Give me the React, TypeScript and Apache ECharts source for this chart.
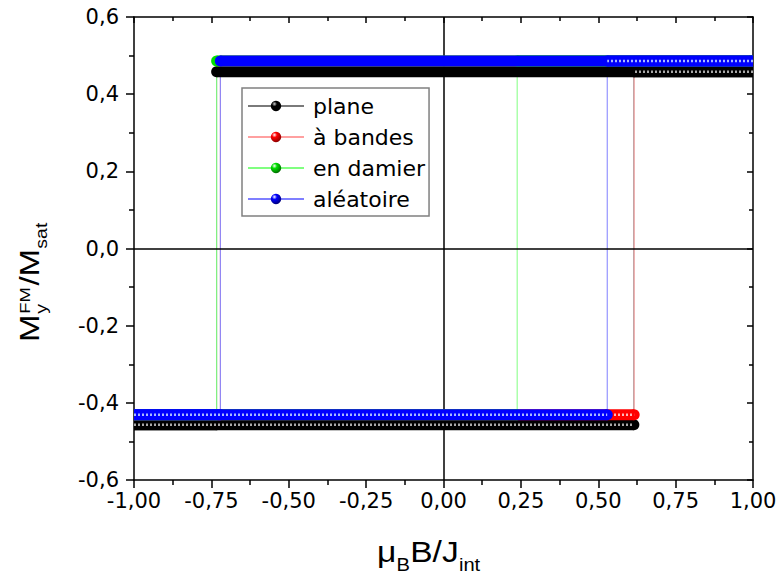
import React, { useEffect, useRef } from 'react';
import * as echarts from 'echarts';

// ---- data ----
const seriesNames = ['plane', 'à bandes', 'en damier', 'aléatoire'];
const baseColors = ['#000000', '#ff0000', '#00e000', '#0000ff'];
const lineColors = ['#7a7a7a', '#ffa0a0', '#80ff80', '#7f7fff'];
const highlightColors = ['#a8a8a8', '#ffb8b8', '#b8ffb8', '#a8b8ff'];
const upperLevel = [0.458, 0.485, 0.486, 0.486];
const lowerLevel = [-0.457, -0.431, -0.431, -0.431];
const switchDownField = [-0.733, -0.721, -0.733, -0.721];
const switchUpField = [0.615, 0.616, 0.238, 0.529];
const fieldMin = -1;
const fieldMax = 1;
const xRange = [-1, 1];
const yRange = [-0.6, 0.6];
const xStep = 0.25;
const yStep = 0.2;

const FONT = '"Liberation Sans", Arial, Helvetica, sans-serif';
const WIDE_FONT = '"DejaVu Sans", Verdana, sans-serif';

function sphere(base: string, hi: string, dark: string) {
  return new echarts.graphic.RadialGradient(0.35, 0.3, 0.7, [
    { offset: 0, color: hi },
    { offset: 0.35, color: base },
    { offset: 1, color: dark },
  ]);
}
const sphereHi = ['#d0d0d0', '#ffffff', '#ffffff', '#ffffff'];
const sphereDark = ['#000000', '#900000', '#007000', '#000080'];

function band(name: string, outer: number[], inner: number[], color: string, z: number) {
  return {
    type: 'line',
    name,
    data: [{ value: outer, symbol: 'none' }, { value: inner }],
    symbol: 'circle',
    symbolSize: 11,
    showSymbol: true,
    itemStyle: { color, borderWidth: 0 },
    silent: true,
    lineStyle: { color, width: 11, cap: 'butt' },
    z,
  };
}

function buildSeries() {
  const out: any[] = [];
  // thin connecting lines (also the legend carriers)
  seriesNames.forEach((name, i) => {
    const up = upperLevel[i];
    const lo = lowerLevel[i];
    const sd = switchDownField[i];
    const su = switchUpField[i];
    out.push({
      type: 'line',
      name,
      data: [
        [fieldMax, up], [sd, up], [sd, lo], [fieldMin, lo],
        [su, lo], [su, up], [fieldMax, up],
      ],
      symbol: 'circle',
      symbolSize: 11,
      showSymbol: false,
      itemStyle: { color: sphere(baseColors[i], sphereHi[i], sphereDark[i]) },
      lineStyle: { color: lineColors[i], width: 1 },
      silent: true,
      z: 2,
      ...(i === 0
        ? {
            markLine: {
              silent: true,
              symbol: ['none', 'none'],
              label: { show: false },
              lineStyle: { color: '#000', width: 1.5, type: 'solid' },
              emphasis: { disabled: true },
              data: [{ xAxis: 0 }, { yAxis: 0 }],
            },
          }
        : {}),
    });
  });
  // dense marker bands, stacked in drawing order
  let z = 3;
  seriesNames.forEach((name, i) => {
    const up = upperLevel[i];
    const lo = lowerLevel[i];
    const sd = switchDownField[i];
    const su = switchUpField[i];
    // descending sweep (solid look)
    out.push(band(name + ' desc up', [fieldMax, up], [sd, up], baseColors[i], z++));
    out.push(band(name + ' desc lo', [fieldMin, lo], [sd, lo], baseColors[i], z++));
    // ascending sweep (textured look)
    const asc = [
      { outer: [fieldMin, lo], inner: [su, lo] },
      { outer: [fieldMax, up], inner: [su, up] },
    ];
    asc.forEach((seg, k) => {
      out.push(band(name + ' asc ' + k, seg.outer, seg.inner, baseColors[i], z++));
      out.push({
        type: 'line',
        name: name + ' asc hl ' + k,
        data: [seg.outer, seg.inner],
        symbol: 'none',
        silent: true,
        lineStyle: { color: highlightColors[i], width: 2.5, type: [2, 2], cap: 'butt' },
        z: z++,
      });
    });
  });
  return out;
}

function txt(text: string, x: number, y: number, size: number) {
  return {
    type: 'text',
    x,
    y,
    silent: true,
    style: {
      text,
      fontSize: size,
      fontFamily: FONT,
      fill: '#000',
      align: 'left',
      textAlign: 'left',
      verticalAlign: 'middle',
      textVerticalAlign: 'middle',
    },
  };
}

export default function App() {
  const ref = useRef<HTMLDivElement>(null);
  useEffect(() => {
    document.body.style.margin = '0';
    if (!ref.current) return;
    const chart = echarts.init(ref.current, null, { renderer: 'svg' });
    const fmtX = (v: number) => v.toFixed(2).replace('.', ',');
    const fmtY = (v: number) => v.toFixed(1).replace('.', ',');
    const axisLineStyle = { color: '#000', width: 1.5 };
    // y title metrics
    const FY = 27;
    const fy = 16;
    // x title metrics
    const FX = 30;
    const fx = 18;
    chart.setOption({
      animation: false,
      backgroundColor: '#fff',
      grid: { left: 134, right: 29, top: 17, bottom: 105 },
      legend: {
        data: seriesNames,
        orient: 'vertical',
        left: 242,
        top: 88,
        padding: [7, 4, 6, 5],
        itemWidth: 56,
        itemHeight: 13,
        itemGap: 9,
        borderColor: '#808080',
        borderWidth: 1.5,
        selectedMode: false,
        z: 100,
        textStyle: { fontSize: 22, fontFamily: WIDE_FONT, color: '#000', lineHeight: 22, padding: [0, 0, 0, 4] },
      },
      xAxis: [
        {
          type: 'value',
          min: xRange[0],
          max: xRange[1],
          interval: xStep,
          position: 'bottom',
          axisLine: { show: true, onZero: false, lineStyle: axisLineStyle },
          axisTick: { show: true, inside: false, length: 8, lineStyle: axisLineStyle },
          minorTick: { show: true, splitNumber: 2, length: 5, lineStyle: axisLineStyle },
          splitLine: { show: false },
          axisLabel: { formatter: fmtX, fontSize: 21, fontFamily: WIDE_FONT, color: '#000', margin: 10 },
        },
        {
          type: 'value',
          min: xRange[0],
          max: xRange[1],
          interval: xStep,
          position: 'top',
          axisLine: { show: true, onZero: false, lineStyle: axisLineStyle },
          axisTick: { show: true, inside: true, length: 6, lineStyle: axisLineStyle },
          minorTick: { show: true, splitNumber: 2, length: 4, lineStyle: axisLineStyle },
          splitLine: { show: false },
          axisLabel: { show: false },
        },
      ],
      yAxis: [
        {
          type: 'value',
          min: yRange[0],
          max: yRange[1],
          interval: yStep,
          position: 'left',
          axisLine: { show: true, onZero: false, lineStyle: axisLineStyle },
          axisTick: { show: true, inside: false, length: 8, lineStyle: axisLineStyle },
          minorTick: { show: true, splitNumber: 2, length: 5, lineStyle: axisLineStyle },
          splitLine: { show: false },
          axisLabel: { formatter: fmtY, fontSize: 21, fontFamily: WIDE_FONT, color: '#000', margin: 15 },
        },
        {
          type: 'value',
          min: yRange[0],
          max: yRange[1],
          interval: yStep,
          position: 'right',
          axisLine: { show: true, onZero: false, lineStyle: axisLineStyle },
          axisTick: { show: true, inside: true, length: 6, lineStyle: axisLineStyle },
          minorTick: { show: true, splitNumber: 2, length: 4, lineStyle: axisLineStyle },
          splitLine: { show: false },
          axisLabel: { show: false },
        },
      ],
      graphic: [
        {
          type: 'group',
          x: 39,
          y: 342,
          rotation: Math.PI / 2,
          scaleX: 1.22,
          children: [
            txt('M', 0, -0.35 * FY, FY),
            txt('FM', 0.86 * FY, -9 - 0.35 * 15, 15),
            txt('y', 0.86 * FY, 8.5 - 0.35 * fy, fy),
            txt('/M', 0.86 * FY + 23, -0.35 * FY, FY),
            txt('sat', 0.86 * FY + 23 + 1.12 * FY, 8.5 - 0.35 * fy, fy),
          ],
        },
        {
          type: 'group',
          x: 377,
          y: 562,
          scaleX: 1.12,
          children: [
            txt('μ', 0, -0.35 * FX, FX),
            txt('B', 0.58 * FX, 9 - 0.35 * fx, fx),
            txt('B/J', 0.58 * FX + 0.68 * fx, -0.35 * FX, FX),
            txt('int', 0.58 * FX + 0.68 * fx + 1.45 * FX, 9 - 0.35 * fx, fx),
          ],
        },
      ],
      series: buildSeries(),
    });
    return () => chart.dispose();
  }, []);
  return <div ref={ref} style={{ position: 'absolute', left: 0, top: 0, width: 782, height: 585 }} />;
}
